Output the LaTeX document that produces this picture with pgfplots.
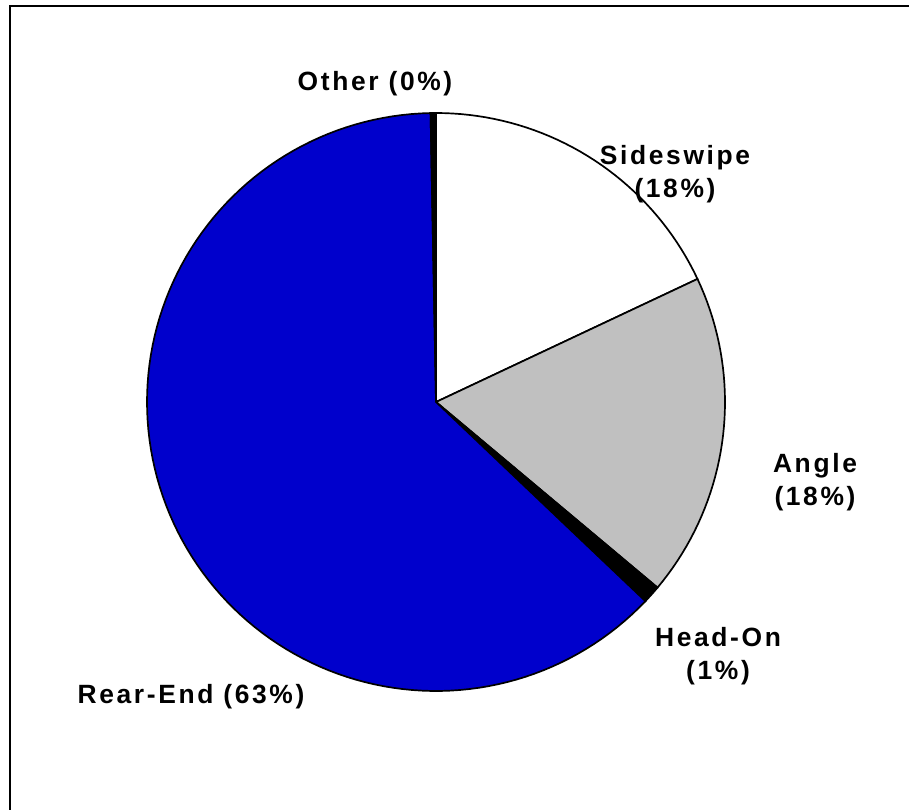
\documentclass[border=0pt]{standalone}
\usepackage{pgfplots}
\pgfplotsset{compat=1.18}
\usepackage{fontspec}
\setmainfont{Liberation Sans}
\definecolor{pieblue}{RGB}{0,0,204}
\definecolor{piegray}{RGB}{192,192,192}
% shares (percent), clockwise from 12 o'clock
\def\pSide{18.0}
\def\pAngle{18.1}
\def\pHead{1.0}
\def\pRear{62.6}
\def\pOther{0.3}
\def\cx{436}
\def\cy{408}
\def\rr{289}
\pgfmathsetmacro{\aA}{90}
\pgfmathsetmacro{\aB}{\aA-3.6*\pSide}
\pgfmathsetmacro{\aC}{\aB-3.6*\pAngle}
\pgfmathsetmacro{\aD}{\aC-3.6*\pHead}
\pgfmathsetmacro{\aE}{\aD-3.6*\pRear}
\pgfmathsetmacro{\aF}{\aE-3.6*\pOther}
\newcommand{\lab}{\fontsize{26.5}{33}\selectfont\bfseries\addfontfeatures{LetterSpace=10}}
\begin{document}
\begin{tikzpicture}
\begin{axis}[
  at={(0,0)}, anchor=south west,
  scale only axis, width=909bp, height=810bp,
  xmin=0, xmax=909, ymin=0, ymax=810,
  axis lines=none, clip=false,
]
\addplot[fill=white, draw=black, line width=1.7bp, samples=40, domain=\aB:\aA, variable=\t]
  ({\cx+\rr*cos(\t)},{\cy+\rr*sin(\t)}) -- (axis cs:\cx,\cy) -- cycle;
\addplot[fill=piegray, draw=black, line width=1.7bp, samples=40, domain=\aC:\aB, variable=\t]
  ({\cx+\rr*cos(\t)},{\cy+\rr*sin(\t)}) -- (axis cs:\cx,\cy) -- cycle;
\addplot[fill=black, draw=black, line width=1.7bp, samples=5, domain=\aD:\aC, variable=\t]
  ({\cx+\rr*cos(\t)},{\cy+\rr*sin(\t)}) -- (axis cs:\cx,\cy) -- cycle;
\addplot[fill=pieblue, draw=black, line width=1.7bp, samples=120, domain=\aE:\aD, variable=\t]
  ({\cx+\rr*cos(\t)},{\cy+\rr*sin(\t)}) -- (axis cs:\cx,\cy) -- cycle;
\addplot[fill=black, draw=black, line width=1.7bp, samples=3, domain=\aF:\aE, variable=\t]
  ({\cx+\rr*cos(\t)},{\cy+\rr*sin(\t)}) -- (axis cs:\cx,\cy) -- cycle;
% frame (top and left only)
\addplot[black, line width=2.2bp] coordinates {(10,-2) (10,804) (911,804)};
% labels
\node[align=center, font=\lab] at (axis cs:375,726) {Other (0\%)};
\node[align=center, font=\lab] at (axis cs:675,636) {Sideswipe\\(18\%)};
\node[align=center, font=\lab] at (axis cs:815,328) {Angle\\(18\%)};
\node[align=center, font=\lab] at (axis cs:718,154) {Head-On\\(1\%)};
\node[align=center, font=\lab] at (axis cs:191,113) {Rear-End (63\%)};
\end{axis}
\pgfresetboundingbox
\path (0,0) rectangle (909bp,810bp);
\end{tikzpicture}
\end{document}
